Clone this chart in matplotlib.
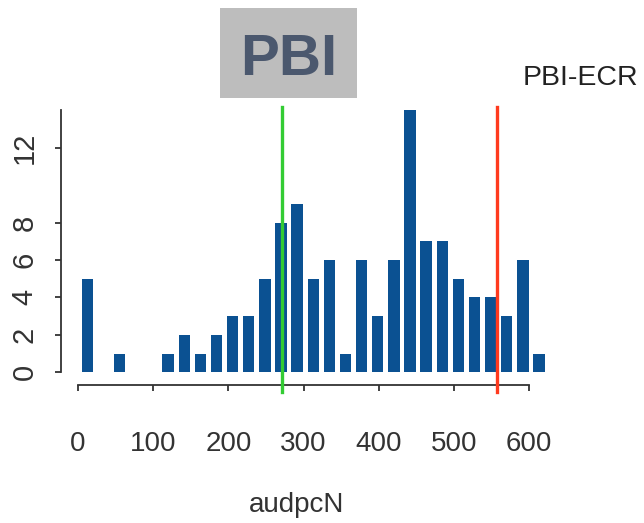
import matplotlib
matplotlib.use("Agg")
import matplotlib.pyplot as plt
from matplotlib.patches import Rectangle
import numpy as np

plt.rcParams['font.family'] = ['Liberation Sans', 'DejaVu Sans']

# ---- data ----
bin_start = 1.9
bin_width = 21.45
counts = [5, 0, 1, 0, 0, 1, 2, 1, 2, 3, 3, 5, 8, 9, 5, 6, 1, 6, 3, 6, 14, 7, 7, 5, 4, 4, 3, 6, 1]
green_value = 272
red_value = 557
x_ticks = [0, 100, 200, 300, 400, 500, 600]
y_ticks = [0, 2, 4, 6, 8, 12]
x_label = "audpcN"
title_text = "PBI"
subtitle_text = "PBI-ECR"

W, H = 644, 523
fig = plt.figure(figsize=(W / 100, H / 100), dpi=100)

ax_left, ax_right, ax_top, ax_bottom = 61, 551.6, 110.2, 385
ax = fig.add_axes([ax_left / W, 1 - ax_bottom / H, (ax_right - ax_left) / W, (ax_bottom - ax_top) / H])

lefts = bin_start + bin_width * np.arange(len(counts))
centers = lefts + bin_width / 2
ax.bar(centers, counts, width=bin_width * 0.70, color='#0b5192', edgecolor='none', zorder=2)

ax.set_xlim(-22.6, 630)
ax.set_ylim(-0.68, 14)

for s in ['top', 'right']:
    ax.spines[s].set_visible(False)
for s in ['left', 'bottom']:
    ax.spines[s].set_color('#333333')
    ax.spines[s].set_linewidth(1.3)
ax.spines['left'].set_bounds(0, 14)
ax.spines['bottom'].set_bounds(0, 600)

ax.set_xticks(x_ticks)
ax.set_xticklabels([str(t) for t in x_ticks])
ax.set_yticks(y_ticks)
ax.set_yticklabels([str(t) for t in y_ticks], rotation=90, va='center')
ax.tick_params(axis='x', direction='out', length=4, width=1.3, color='#333333',
               labelsize=20, pad=29, labelcolor='#333333')
ax.tick_params(axis='y', direction='out', length=4, width=1.3, color='#333333',
               labelsize=21, pad=12, labelcolor='#333333')

ax.axvline(green_value, ymin=-0.0255, ymax=1.0116, color='#33cc33', lw=2.4, clip_on=False, zorder=3)
ax.axvline(red_value, ymin=-0.0255, ymax=1.0116, color='#ff3a1e', lw=2.4, clip_on=False, zorder=3)

fig.text(297 / W, 1 - 505 / H, x_label, ha='center', va='center', fontsize=20, color='#333333')

fig.patches.append(Rectangle((220 / W, 1 - 98 / H), 137 / W, 90 / H,
                             transform=fig.transFigure, facecolor='#bdbdbd', edgecolor='none'))
fig.text(288.5 / W, 1 - 75 / H, title_text, ha='center', va='baseline', fontsize=42,
         fontweight='bold', color='#4b586e')
fig.text(638 / W, 1 - 85 / H, subtitle_text, ha='right', va='baseline', fontsize=20.5, color='#222222')

fig.savefig('out.png', dpi=100)
